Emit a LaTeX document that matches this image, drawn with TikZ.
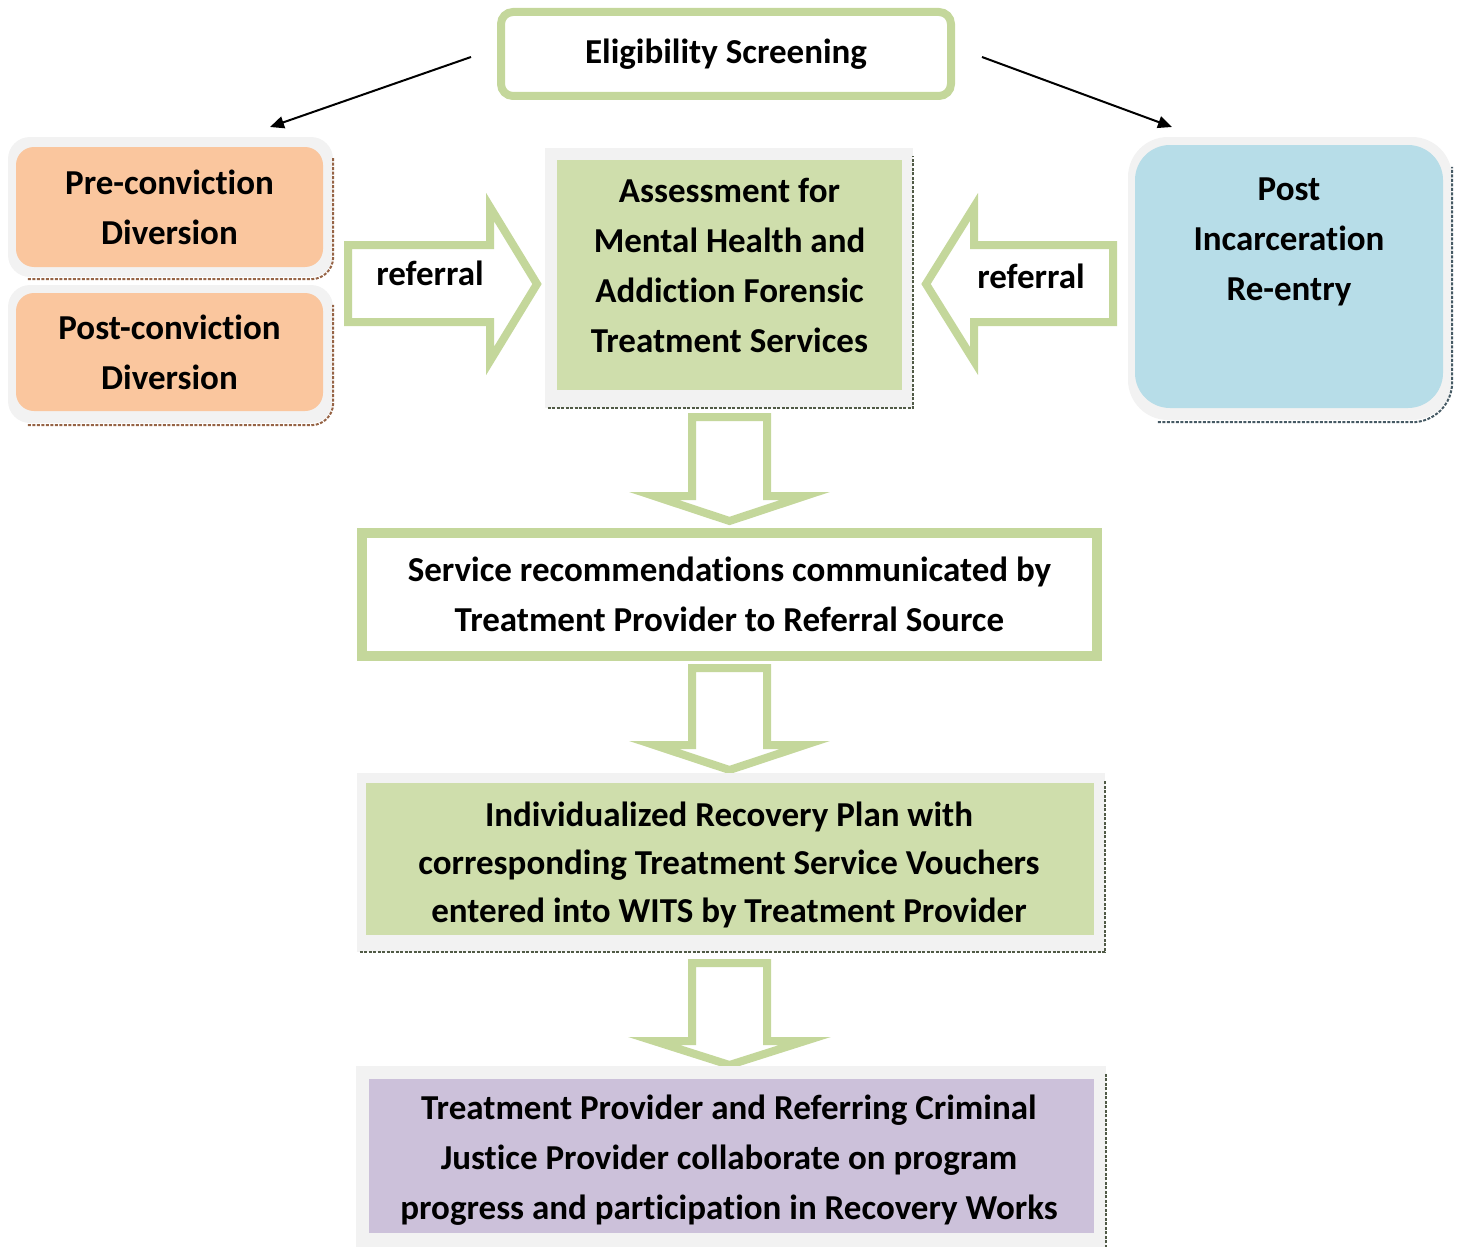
\documentclass[tikz,border=0pt]{standalone}
\usepackage{fontspec}
\setmainfont{Carlito}[Ligatures=NoCommon]
\usetikzlibrary{arrows.meta}

\definecolor{olivelight}{RGB}{196,215,155}
\definecolor{olivefill}{RGB}{207,222,172}
\definecolor{peach}{RGB}{250,198,158}
\definecolor{aqua}{RGB}{183,221,232}
\definecolor{lilac}{RGB}{204,193,218}
\definecolor{framegray}{RGB}{242,242,242}
\definecolor{shadowbrown}{RGB}{150,100,70}
\definecolor{shadowgreen}{RGB}{80,90,70}
\definecolor{shadowblue}{RGB}{70,90,100}

\tikzset{
  lbl/.style={font=\bfseries\fontsize{35}{50}\selectfont, align=center, inner sep=0pt},
  framebox/.style={fill=framegray, inner sep=0pt},
  fillbox/.style={inner sep=0pt},
  blockarrow/.style={draw=olivelight, line width=8pt, fill=white, miter limit=10},
  thinarrow/.style={draw=black, line width=2pt, -{Triangle[length=14pt,width=12pt]}},
  dropline/.style={line width=2pt, dash pattern=on 3pt off 1.5pt},
}

\begin{document}
\begin{tikzpicture}[x=1pt,y=-1pt]
    \useasboundingbox (0,0) rectangle (1460,1247);

    % top
    \node[lbl, draw=olivelight, line width=8pt, rounded corners=12pt, minimum width=450, minimum height=84] (elig) at (726,54) {Eligibility Screening};
    \coordinate (lend) at (270,127);
    \coordinate (rend) at (1172,127);
    \draw[thinarrow] ([shift={(-26,3)}]elig.west) -- (lend);
    \draw[thinarrow] ([shift={(27,3)}]elig.east) -- (rend);

    % left boxes
    \node[framebox, rounded corners=22pt, minimum width=325, minimum height=140] (preframe) at (170.5,207) {};
    \draw[shadowbrown, dropline, rounded corners=22pt] ([xshift=20pt,yshift=-2pt]preframe.south west) -- ([yshift=-2pt]preframe.south east) -- ([yshift=-20pt]preframe.north east);
    \node[fillbox, lbl, fill=peach, rounded corners=18pt, minimum width=307, minimum height=120] (pre) at (169.5,207) {Pre-conviction\\Diversion};
    \node[framebox, rounded corners=22pt, minimum width=325, minimum height=138] (postframe) at (170.5,354) {};
    \draw[shadowbrown, dropline, rounded corners=22pt] ([xshift=20pt,yshift=-2pt]postframe.south west) -- ([yshift=-2pt]postframe.south east) -- ([yshift=-20pt]postframe.north east);
    \node[fillbox, lbl, fill=peach, rounded corners=18pt, minimum width=307, minimum height=118] (postc) at (169.5,352) {Post-conviction\\Diversion};

    % right box
    \node[framebox, rounded corners=40pt, minimum width=324, minimum height=283] (reentryframe) at (1290,278.5) {};
    \draw[shadowblue, dropline, rounded corners=40pt] ([xshift=30pt,yshift=-2pt]reentryframe.south west) -- ([yshift=-2pt]reentryframe.south east) -- ([yshift=-30pt]reentryframe.north east);
    \node[fillbox, fill=aqua, rounded corners=35pt, minimum width=308, minimum height=263] (reentry) at (1289,276.5) {};
    \node[lbl] (reentrytxt) at (1289,242) {Post\\Incarceration\\Re-entry};

    % assessment
    \node[framebox, minimum width=368, minimum height=260] (assframe) at (729,278) {};
    \draw[shadowgreen, dropline] ([xshift=3pt]assframe.south west) -- (assframe.south east) -- ([yshift=-8pt]assframe.north east);
    \node[fillbox, fill=olivefill, minimum width=345, minimum height=230] (ass) at (729.5,275) {};
    \node[lbl] (asstxt) at (729.5,265) {Assessment for\\Mental Health and\\Addiction Forensic\\Treatment Services};

    % referral arrows
    \draw[blockarrow] (348,245) -- (490,245) -- (490,207) -- (537,284) -- (490,361) -- (490,322) -- (348,322) -- cycle;
    \node[lbl] (refl) at (430,273) {referral};
    \draw[blockarrow] (1113,245) -- (974,245) -- (974,207) -- (926,284) -- (974,361) -- (974,322) -- (1113,322) -- cycle;
    \node[lbl] (refr) at (1031,276) {referral};

    % chain downwards
    \draw[blockarrow] (692,417) -- (767,417) -- (767,496) -- (805,496) -- (729.5,521) -- (654,496) -- (692,496) -- cycle;
    \node[lbl, draw=olivelight, line width=10pt, minimum width=735, minimum height=123] (svc) at (729.5,594) {Service recommendations communicated by\\Treatment Provider to Referral Source};

    \draw[blockarrow] (692,668) -- (767,668) -- (767,745) -- (805,745) -- (729.5,770) -- (654,745) -- (692,745) -- cycle;
    \node[framebox, minimum width=748, minimum height=179] (planframe) at (731,862.5) {};
    \draw[shadowgreen, dropline] ([xshift=3pt]planframe.south west) -- (planframe.south east) -- ([yshift=-8pt]planframe.north east);
    \node[fillbox, fill=olivefill, minimum width=728, minimum height=152] (plan) at (730,859) {};
    \node[lbl, font=\bfseries\fontsize{35}{48}\selectfont] (plantxt) at (729,865) {Individualized Recovery Plan with\\corresponding Treatment Service Vouchers\\entered into WITS by Treatment Provider};

    \draw[blockarrow] (692,963) -- (767,963) -- (767,1041) -- (805,1041) -- (729.5,1065) -- (654,1041) -- (692,1041) -- cycle;
    \node[framebox, minimum width=750, minimum height=182] (collabframe) at (731,1157) {};
    \draw[shadowgreen, dropline] ([yshift=-8pt]collabframe.north east) -- (collabframe.south east);
    \node[fillbox, fill=lilac, minimum width=725, minimum height=154] (collab) at (731.5,1156) {};
    \node[lbl] (collabtxt) at (729,1160) {Treatment Provider and Referring Criminal\\Justice Provider collaborate on program\\progress and participation in Recovery Works};
\end{tikzpicture}
\end{document}
